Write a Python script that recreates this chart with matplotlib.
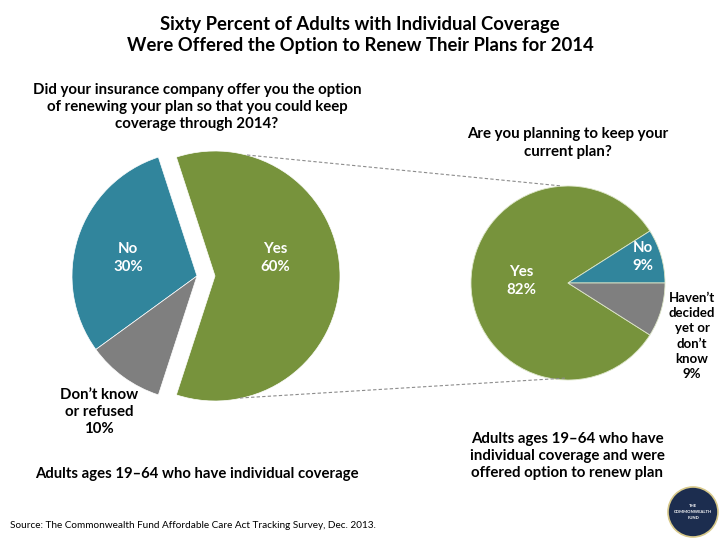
import matplotlib
matplotlib.use('Agg')
import matplotlib.pyplot as plt
from matplotlib.patches import Circle

# left pie: offered option to renew
offer_labels = ['Yes', 'No', 'Don\u2019t know\nor refused']
offer_values = [60, 30, 10]

# right pie: planning to keep current plan
keep_labels = ['Yes', 'No', 'Haven\u2019t\ndecided\nyet or\ndon\u2019t\nknow']
keep_values = [82, 9, 9]

colors = ['#77933C', '#31859C', '#7F7F7F']

title = ('Sixty Percent of Adults with Individual Coverage\n'
         'Were Offered the Option to Renew Their Plans for 2014')
q_left = ('Did your insurance company offer you the option\n'
          'of renewing your plan so that you could keep\n'
          'coverage through 2014?')
q_right = 'Are you planning to keep your\ncurrent plan?'
base_left = 'Adults ages 19\u201364 who have individual coverage'
base_right = ('Adults ages 19\u201364 who have\n'
              'individual coverage and were\n'
              'offered option to renew plan')
source = 'Source: The Commonwealth Fund Affordable Care Act Tracking Survey, Dec. 2013.'

plt.rcParams['font.family'] = ['Lato', 'DejaVu Sans']

H = 540


def Y(y):
    return H - y


fig = plt.figure(figsize=(7.2, 5.4), dpi=100)
ax = fig.add_axes([0, 0, 1, 1])

# left pie, "Yes" slice pulled out (explode is in data units here)
r1 = 125
c1 = (197, Y(276))
ax.pie(offer_values, colors=colors, radius=r1, center=c1,
       startangle=-108, counterclock=True, explode=[18, 0, 0],
       wedgeprops=dict(edgecolor='white', linewidth=0.5))

# right pie
r2 = 97
c2 = (568, Y(283))
ax.pie(keep_values, colors=colors, radius=r2, center=c2,
       startangle=-keep_values[1] * 3.6, counterclock=False,
       wedgeprops=dict(edgecolor='#dde6c8', linewidth=0.6))

# dashed connectors
ax.plot([247, 562], [Y(155), Y(186)], ls=(0, (3, 2)), color='#8c8c8c', lw=0.8)
ax.plot([240, 567], [Y(398), Y(378)], ls=(0, (3, 2)), color='#8c8c8c', lw=0.8)

ax.set_xlim(0, 720)
ax.set_ylim(0, H)
ax.set_aspect('equal')
ax.axis('off')

bold = dict(fontweight='bold', ha='center', va='center')

ax.text(360, Y(35), title, fontsize=13.3, linespacing=1.3, **bold)
ax.text(197, Y(107), q_left, fontsize=10.8, linespacing=1.28, **bold)
ax.text(568, Y(143), q_right, fontsize=10.8, linespacing=1.28, **bold)

# slice labels
ax.text(275, Y(258), f'{offer_labels[0]}\n{offer_values[0]}%', color='white',
        fontsize=10.8, linespacing=1.3, **bold)
ax.text(128, Y(258), f'{offer_labels[1]}\n{offer_values[1]}%', color='white',
        fontsize=10.8, linespacing=1.3, **bold)
ax.text(99, Y(412), f'{offer_labels[2]}\n{offer_values[2]}%', color='black',
        fontsize=10.8, linespacing=1.28, **bold)

ax.text(521, Y(281), f'{keep_labels[0]}\n{keep_values[0]}%', color='white',
        fontsize=10.8, linespacing=1.3, **bold)
ax.text(643, Y(257), f'{keep_labels[1]}\n{keep_values[1]}%', color='white',
        fontsize=10.8, linespacing=1.3, **bold)
ax.text(692, Y(336), f'{keep_labels[2]}\n{keep_values[2]}%', color='black',
        fontsize=9.5, linespacing=1.32, **bold)

ax.text(197, Y(474), base_left, fontsize=10.7, **bold)
ax.text(567, Y(456), base_right, fontsize=10.8, linespacing=1.28, **bold)

ax.text(10, Y(525), source, fontsize=7.2, ha='left', va='center')

# logo badge
ax.add_patch(Circle((693, Y(512)), 25, facecolor='#1c2d4f', edgecolor='#d8c98a', lw=1.2))
ax.text(693, Y(512), 'THE\nCOMMONWEALTH\nFUND', color='white', fontsize=3,
        fontweight='bold', ha='center', va='center', linespacing=1.6)

fig.savefig('out.png', dpi=100)
